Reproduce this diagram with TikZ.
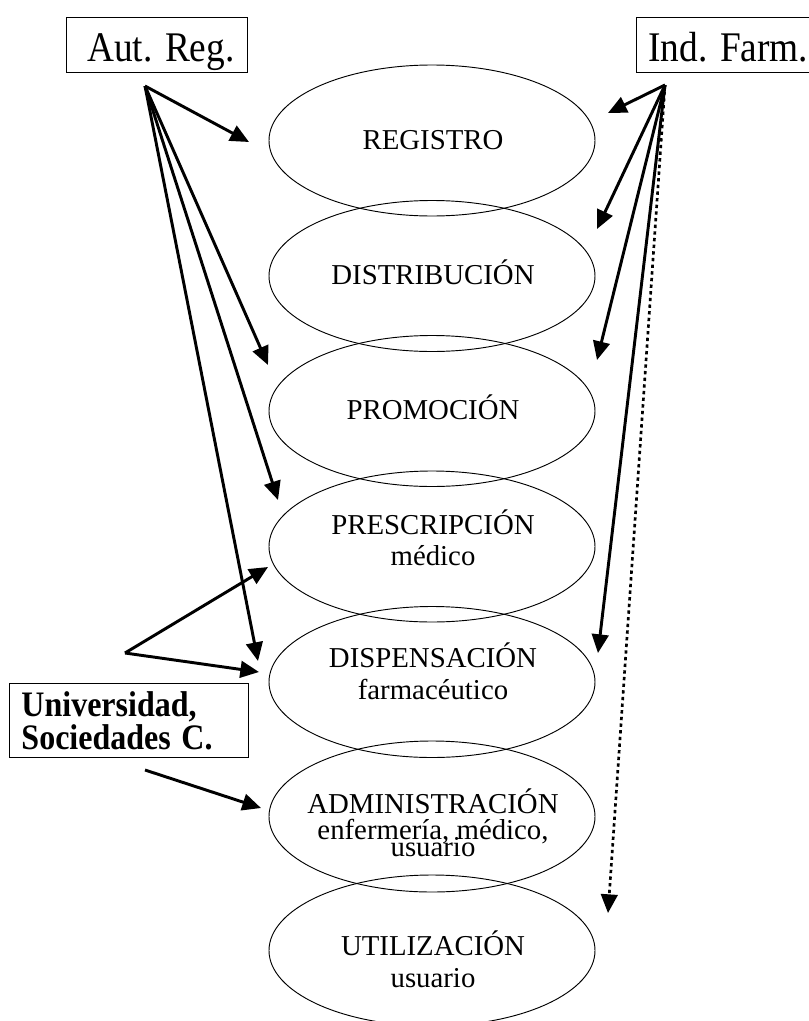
\documentclass[tikz,border=0pt]{standalone}
\usepackage{fontspec}
\setmainfont{Liberation Serif}
\usetikzlibrary{arrows.meta,shapes.geometric}
\frenchspacing
\tikzset{
	etapa/.style={draw, ellipse, line width=0.7pt, minimum width=244.5pt, minimum height=113.25pt, inner sep=0pt},
	texto/.style={anchor=base, inner sep=0pt, font=\fontsize{21.6}{21.6}\selectfont},
	caja/.style={draw, line width=0.7pt, inner ysep=0pt, text height=33pt, text depth=8.25pt, font=\fontsize{28}{28}\selectfont},
	flecha/.style={line width=2.2pt, -{Triangle[length=14pt, width=12.5pt]}},
}
\newcommand{\alto}[1]{\scalebox{1}[1.13]{#1}}

\begin{document}
\begin{tikzpicture}[x=0.75pt, y=-0.75pt]
	%%%%% START %%%%%
	\useasboundingbox (0, 0) rectangle (808, 1021);

	% etapas del medicamento
	\node[etapa] (registro) at (432, 140.5) {};
	\node[etapa] (distribucion) at (432, 276) {};
	\node[etapa] (promocion) at (432, 411) {};
	\node[etapa] (prescripcion) at (432, 546.5) {};
	\node[etapa] (dispensacion) at (432, 682) {};
	\node[etapa] (administracion) at (432, 816.5) {};
	\node[etapa] (utilizacion) at (432, 950.5) {};

	\node[texto] (tregistro) at (433, 149.5) {REGISTRO};
	\node[texto] (tdistribucion) at (433, 284.5) {DISTRIBUCIÓN};
	\node[texto] (tpromocion) at (433, 419.5) {PROMOCIÓN};
	\node[texto] (tprescripcion) at (433, 534.5) {PRESCRIPCIÓN};
	\node[texto] (tmedico) at (433, 565) {médico};
	\node[texto] (tdispensacion) at (433, 667.5) {DISPENSACIÓN};
	\node[texto] (tfarmaceutico) at (433, 699) {farmacéutico};
	\node[texto] (tadministracion) at (433, 813) {ADMINISTRACIÓN};
	\node[texto] (tenfermeria) at (433, 839) {enfermería, médico,};
	\node[texto] (tusuario) at (433, 856) {usuario};
	\node[texto] (tutilizacion) at (433, 955) {UTILIZACIÓN};
	\node[texto] (tusuario2) at (433, 987) {usuario};

	% agentes
	\node[caja, anchor=base east, inner xsep=9.75pt, text width=116.25pt, align=right] (autreg) at (248, 61) {\alto{Aut. Reg.}};
	\node[caja, anchor=base west, inner xsep=9pt, text width=120pt, align=left] (indfarm) at (636, 61) {\alto{Ind. Farm.}};
	\node[draw, line width=0.7pt, anchor=north west, minimum height=55.5pt, inner xsep=9pt, inner ysep=0pt, text width=161.25pt, align=left, font=\fontsize{24}{24.75}\selectfont\bfseries] (univ) at (9, 683) {\scalebox{1}[1.12]{Universidad,}\\\scalebox{1}[1.12]{Sociedades C.}};

	% puntos de las flechas
	\coordinate (ar) at (145, 86);
	\coordinate (ar1) at (249, 142);
	\coordinate (ar2) at (268, 365);
	\coordinate (ar3) at (278, 500);
	\coordinate (ar4) at (258, 661);

	\coordinate (if) at (665, 85);
	\coordinate (if1) at (608, 113);
	\coordinate (if2) at (597, 229);
	\coordinate (if3) at (597, 360);
	\coordinate (if4) at (598, 653);
	\coordinate (if5) at (608, 913);

	\coordinate (un) at (125, 653);
	\coordinate (un1) at (268, 567);
	\coordinate (un2) at (259, 672);
	\coordinate (ub) at (145, 770);
	\coordinate (ub1) at (261, 808);

	\draw[flecha] (ar) -- (ar1);
	\draw[flecha] (ar) -- (ar2);
	\draw[flecha] (ar) -- (ar3);
	\draw[flecha] (ar) -- (ar4);

	\draw[flecha] (if) -- (if1);
	\draw[flecha] (if) -- (if2);
	\draw[flecha] (if) -- (if3);
	\draw[flecha] (if) -- (if4);
	\draw[flecha, line width=2pt, dash pattern=on 2.5pt off 2.5pt] (if) -- (if5);

	\draw[flecha] (un) -- (un1);
	\draw[flecha] (un) -- (un2);
	\draw[flecha] (ub) -- (ub1);

	%%%%% END %%%%%
\end{tikzpicture}
\end{document}
